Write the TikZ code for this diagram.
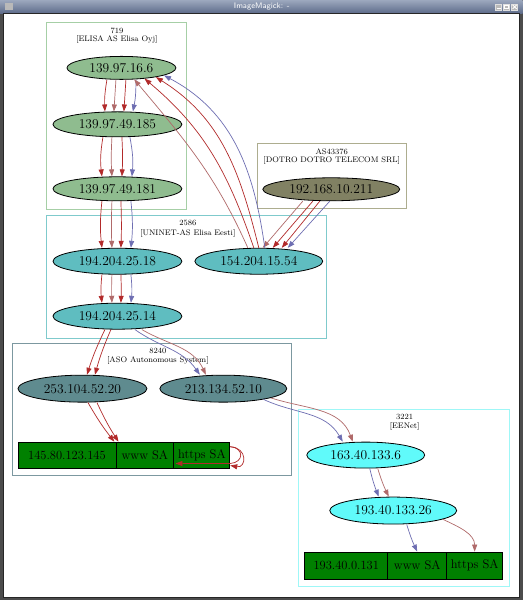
\documentclass[tikz,border=0pt]{standalone}
\usepackage{tikz}
\usetikzlibrary{arrows.meta}
\usetikzlibrary{shapes.geometric}

\definecolor{edgered}{HTML}{B22A2A}
\definecolor{edgerose}{HTML}{B06A6A}
\definecolor{edgeblue}{HTML}{6E6EB2}
\definecolor{elisagreen}{HTML}{8FBC8F}
\definecolor{dotrogray}{HTML}{818163}
\definecolor{uninetteal}{HTML}{5FBDC0}
\definecolor{asoslate}{HTML}{5F8B8F}
\definecolor{eenetcyan}{HTML}{60FAFA}
\definecolor{recgreen}{HTML}{008000}
\definecolor{boxgreen}{HTML}{A6CFA6}
\definecolor{boxtan}{HTML}{ADAD8F}
\definecolor{boxteal}{HTML}{7FCACC}
\definecolor{boxslate}{HTML}{7C98A0}
\definecolor{boxcyan}{HTML}{9FF7F7}
\definecolor{barlight}{HTML}{9AA6BC}
\definecolor{bardark}{HTML}{5D6B8A}

\begin{document}
\begin{tikzpicture}[x=1pt,y=1pt,
    host/.style={ellipse, draw, line width=0.8pt, inner sep=0pt, minimum height=25pt,
      font=\fontsize{13.5}{15}\selectfont},
    cell/.style={rectangle, draw, line width=0.8pt, fill=recgreen, inner sep=0pt,
      minimum height=27pt, font=\fontsize{12.5}{14}\selectfont},
    cluster/.style={line width=1pt},
    astext/.style={font=\fontsize{8}{9}\selectfont, inner sep=0pt},
    winbutton/.style={fill=gray!55, draw=gray!25, minimum size=6pt, inner sep=0pt},
    hop/.style={line width=0.7pt, -{Triangle[length=7pt,width=5pt]}}]

    % Window frame and title bar
    \fill[black!70] (0,0) rectangle (523,600);
    \shade[top color=barlight, bottom color=bardark] (0,587) rectangle (523,600);
    \fill[white] (3,3) rectangle (520,587);
    \draw[black!85] (3,3) rectangle (520,587);
    \node[text=white, font=\sffamily\fontsize{8}{9}\selectfont] (title) at (262,593.5) {ImageMagick: -};
    \fill[gray!55] (5,590) rectangle (13,597);
    \node[winbutton] (bmin) at (499,593.5) {};
    \node[winbutton] (bmax) at (507,593.5) {};
    \node[winbutton] (bclose) at (515,593.5) {};
    \draw[white, line width=0.8pt] ([xshift=-2,yshift=1.5]bmin.south) -- ([xshift=2,yshift=1.5]bmin.south);
    \draw[white, line width=0.6pt] ([xshift=-2,yshift=-1.5]bmax.center) rectangle ([xshift=2,yshift=1.5]bmax.center);
    \draw[white, line width=0.8pt] ([xshift=-2,yshift=-2]bclose.center) -- ([xshift=2,yshift=2]bclose.center)
      ([xshift=-2,yshift=2]bclose.center) -- ([xshift=2,yshift=-2]bclose.center);

    % Draw the AS clusters
    \draw[cluster, boxgreen] (47,391) rectangle (187,578);
    \draw[cluster, boxtan] (258,392) rectangle (407,457);
    \draw[cluster, boxteal] (47,262) rectangle (327,385);
    \draw[cluster, boxslate] (13,125) rectangle (292,257);
    \draw[cluster, boxcyan] (299,14) rectangle (510,191);

    % Label the clusters
    \node[astext] (as719) at (117,570) {719};
    \node[astext] (as719n) at (117,561) {[ELISA AS Elisa Oyj]};
    \node[astext] (as43376) at (332,449) {AS43376};
    \node[astext] (as43376n) at (332,440) {[DOTRO DOTRO TELECOM SRL]};
    \node[astext] (as2586) at (188,377) {2586};
    \node[astext] (as2586n) at (188,367) {[UNINET-AS Elisa Eesti]};
    \node[astext] (as8240) at (158,249) {8240};
    \node[astext] (as8240n) at (158,240) {[ASO Autonomous System]};
    \node[astext] (as3221) at (405,183) {3221};
    \node[astext] (as3221n) at (405,174) {[EENet]};

    % Hosts
    \node[host, fill=elisagreen, minimum width=109pt, minimum height=23pt] (n1) at (121.5,532.5) {139.97.16.6};
    \node[host, fill=elisagreen, minimum width=129pt] (n2) at (117.5,476) {139.97.49.185};
    \node[host, fill=elisagreen, minimum width=129pt, minimum height=24pt] (n3) at (117.5,411.5) {139.97.49.181};
    \node[host, fill=dotrogray, minimum width=137pt, minimum height=23pt] (n4) at (331.5,411) {192.168.10.211};
    \node[host, fill=uninetteal, minimum width=129pt, minimum height=26pt] (n5) at (117.5,339) {194.204.25.18};
    \node[host, fill=uninetteal, minimum width=128pt, minimum height=26pt] (n6) at (259,339) {154.204.15.54};
    \node[host, fill=uninetteal, minimum width=129pt, minimum height=26pt] (n7) at (117.5,284) {194.204.25.14};
    \node[host, fill=asoslate, minimum width=129pt, minimum height=27pt] (n8) at (82.5,211.5) {253.104.52.20};
    \node[host, fill=asoslate, minimum width=127pt, minimum height=27pt] (n9) at (223.5,211.5) {213.134.52.10};
    \node[host, fill=eenetcyan, minimum width=118pt, minimum height=26pt] (n10) at (366,145) {163.40.133.6};
    \node[host, fill=eenetcyan, minimum width=127pt, minimum height=27pt] (n11) at (393.5,89.5) {193.40.133.26};

    % Service records
    \node[cell, minimum width=98pt, minimum height=26pt] (r1a) at (67,145) {145.80.123.145};
    \node[cell, minimum width=58pt, minimum height=26pt] (r1b) at (145,145) {www SA};
    \node[cell, minimum width=56pt, minimum height=26pt] (r1c) at (202,145) {https SA};
    \node[cell, minimum width=83pt] (r2a) at (346.5,34.5) {193.40.0.131};
    \node[cell, minimum width=59pt] (r2b) at (417.5,34.5) {www SA};
    \node[cell, minimum width=56pt] (r2c) at (475,34.5) {https SA};

    % Traceroute hops
    \foreach \c/\s/\e/\b in {edgered/-14.5/-12.5/-6, edgerose/-5.5/-3.5/0, edgered/4.5/6.5/0, edgeblue/14.5/15.5/6}
      \draw[hop, \c] ([xshift=\s]n1.south) to[bend left=\b] ([xshift=\e]n2.north);
    \foreach \c/\s/\e/\b in {edgered/-14.5/-15.5/-8, edgerose/-5.5/-5.5/-3, edgered/4.5/4.5/3, edgeblue/12.5/14.5/8}
      \draw[hop, \c] ([xshift=\s]n2.south) to[bend left=\b] ([xshift=\e]n3.north);
    \foreach \c/\s/\b in {edgered/-15.5/-6, edgerose/-5.5/-2, edgered/3.5/2, edgeblue/13.5/6} {
      \draw[hop, \c] ([xshift=\s]n3.south) to[bend left=\b] ([xshift=\s]n5.north);
      \draw[hop, \c] ([xshift=\s]n5.south) to[bend left=\b] ([xshift=\s]n7.north);
    }
    \foreach \c/\s/\e in {edgerose/-28.5/4, edgered/-18.5/14, edgered/-11.5/23, edgeblue/-1.5/29}
      \draw[hop, \c] ([xshift=\s]n4.south) -- ([xshift=\e]n6.north);
    \foreach \c/\s/\a/\o/\i in {edgerose/-11/-42/114/-50, edgered/-5/-25/109/-40, edgered/0/-15/104/-32, edgeblue/6/-10/98/-28}
      \draw[hop, \c] ([xshift=\s]n6.north) to[out=\o, in=\i] (n1.\a);
    \foreach \s/\e in {-12.5/4.5, -6.5/12.5}
      \draw[hop, edgered] ([xshift=\s]n7.south) to[bend left=-4] ([xshift=\e]n8.north);
    \draw[hop, edgeblue] ([xshift=17.5]n7.south) to[out=-35, in=125] ([xshift=-23.5]n9.north);
    \draw[hop, edgerose] ([xshift=24.5]n7.south) to[out=-30, in=115] ([xshift=-17.5]n9.north);
    \draw[hop, edgeblue] (n9.-15) to[out=-25, in=120] ([xshift=-23]n10.north);
    \draw[hop, edgerose] (n9.-11) to[out=-18, in=110] ([xshift=-13]n10.north);
    \draw[hop, edgeblue] ([xshift=4]n10.south) to[bend left=-4] ([xshift=-14.5]n11.north);
    \draw[hop, edgerose] ([xshift=12]n10.south) to[bend left=-4] ([xshift=-4.5]n11.north);
    \draw[hop, edgeblue] ([xshift=13.5]n11.south) to[bend left=-4] (r2b.north);
    \draw[hop, edgerose] (n11.-10) to[out=-25, in=90] (r2c.north);
    \draw[hop, edgered] ([xshift=5.5]n8.south) to[bend left=-4] ([xshift=-2]r1a.north east);
    \draw[hop, edgered] ([xshift=14.5]n8.south) to[bend left=-4] ([xshift=3]r1b.north west);

    % Loops on https SA
    \draw[hop, edgered] ([yshift=-5]r1c.north east) .. controls +(18,-1) and +(16,-3) .. ([yshift=3]r1c.south east);
    \draw[hop, edgered] ([yshift=-5]r1c.north east) .. controls +(14,-1) and +(14,1) .. ([yshift=5]r1c.south east) -- ([xshift=2,yshift=5]r1c.south west);
\end{tikzpicture}
\end{document}
